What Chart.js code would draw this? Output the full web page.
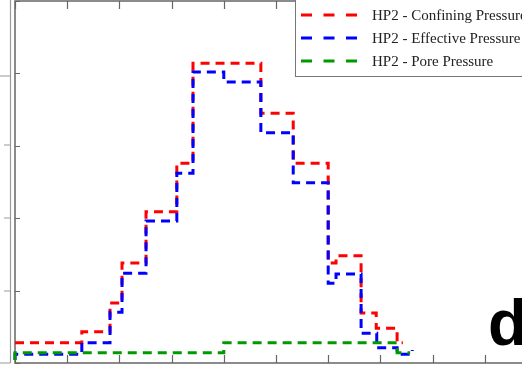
<!DOCTYPE html>
<html>
<head>
<meta charset="utf-8">
<script src="https://cdn.jsdelivr.net/npm/chart.js@4.4.1/dist/chart.umd.min.js"></script>
<style>
  html, body { margin: 0; padding: 0; background: #fff; overflow: hidden; }
  #wrap { position: relative; width: 540px; height: 373px; }
</style>
</head>
<body>
<div id="wrap"><canvas id="chart" width="540" height="373"></canvas></div>
<script>
// step start positions and levels (level holds until next x)
const confX = [0, 12.8, 18.2, 20.5, 25.1, 31.0, 34.1, 47.1, 53.3, 60.0, 61.5, 66.3, 69.2, 73.2, 74.3];
const confY = [2.8, 4.3, 8.3, 13.8, 20.9, 27.6, 41.4, 34.5, 27.6, 13.8, 14.8, 6.9, 4.8, 2.8, 2.8];

const effX = [0, 0, 12.8, 18.2, 20.5, 25.1, 31.0, 34.1, 40.0, 47.1, 53.3, 60.0, 61.5, 66.3, 69.3, 73.2, 76.1, 76.1];
const effY = [0.4, 1.2, 2.8, 7.0, 12.4, 19.6, 26.2, 40.2, 38.8, 31.8, 24.9, 11.0, 12.3, 4.1, 2.1, 1.2, 1.2, 1.8];

const poreX = [0, 0, 40.0, 73.2, 75.7];
const poreY = [0.4, 1.4, 2.8, 1.4, 1.4];

const seriesLabels = ['HP2 - Confining Pressure', 'HP2 - Effective Pressure', 'HP2 - Pore Pressure'];
const seriesColors = ['#ff0000', '#0000ff', '#009a00'];

const xTicks = [0, 10, 20, 30, 40, 50, 60, 70, 80, 90, 100];
const yTicks = [0, 10, 20, 30, 40, 50];

function toPoints(xs, ys) {
    return xs.map((x, i) => ({ x: x, y: ys[i] }));
}

// frame with inward ticks, plus the edge of the neighbouring panel
const framePlugin = {
    id: 'frame',
    beforeDatasetsDraw(chart) {
        const ctx = chart.ctx;
        const a = chart.chartArea;
        const xs = chart.scales.x, ys = chart.scales.y;
        ctx.save();
        // neighbour panel sliver
        ctx.strokeStyle = '#9a9a9a';
        ctx.lineWidth = 1.2;
        ctx.beginPath();
        ctx.moveTo(10.5, 0); ctx.lineTo(10.5, a.bottom);
        ctx.moveTo(0, 76); ctx.lineTo(10.5, 76);
        [145, 218, 291].forEach(py => { ctx.moveTo(4, py); ctx.lineTo(10.5, py); });
        ctx.moveTo(0, a.bottom); ctx.lineTo(10.5, a.bottom);
        ctx.stroke();

        ctx.strokeStyle = '#666';
        ctx.lineWidth = 1.5;
        ctx.strokeRect(a.left, a.top, a.right - a.left, a.bottom - a.top);
        ctx.lineWidth = 1.2;
        ctx.beginPath();
        xTicks.forEach(v => {
            const px = Math.round(xs.getPixelForValue(v)) + 0.5;
            ctx.moveTo(px, a.bottom); ctx.lineTo(px, a.bottom - 8);
            ctx.moveTo(px, a.top); ctx.lineTo(px, a.top + 8);
        });
        yTicks.forEach(v => {
            const py = Math.round(ys.getPixelForValue(v)) + 0.5;
            ctx.moveTo(a.left, py); ctx.lineTo(a.left + 5, py);
            ctx.moveTo(a.right, py); ctx.lineTo(a.right - 5, py);
        });
        ctx.stroke();
        ctx.restore();
    },
    afterDraw(chart) {
        const ctx = chart.ctx;
        ctx.save();
        // legend box
        ctx.fillStyle = '#fff';
        ctx.fillRect(295, 0, 260, 77);
        ctx.strokeStyle = '#777';
        ctx.lineWidth = 1;
        ctx.strokeRect(295.5, -1, 260, 77.5);
        ctx.font = '15px "Liberation Serif"';
        ctx.textBaseline = 'middle';
        chart.data.datasets.forEach((ds, i) => {
            const cy = 15 + i * 23;
            ctx.strokeStyle = ds.borderColor;
            ctx.lineWidth = 3;
            ctx.setLineDash([11, 11.5]);
            ctx.beginPath();
            ctx.moveTo(301, cy); ctx.lineTo(358, cy);
            ctx.stroke();
            ctx.setLineDash([]);
            ctx.fillStyle = '#222';
            ctx.fillText(ds.label, 372, cy + 1);
        });
        // panel letter
        ctx.fillStyle = '#000';
        ctx.font = 'bold 64px "Liberation Sans"';
        ctx.textBaseline = 'alphabetic';
        ctx.fillText('d', 488, 345);
        ctx.restore();
    }
};

const ctx = document.getElementById('chart').getContext('2d');
new Chart(ctx, {
    type: 'line',
    data: {
        datasets: [
            { label: seriesLabels[0], data: toPoints(confX, confY), borderColor: seriesColors[0], order: 3 },
            { label: seriesLabels[1], data: toPoints(effX, effY), borderColor: seriesColors[1], order: 2 },
            { label: seriesLabels[2], data: toPoints(poreX, poreY), borderColor: seriesColors[2], order: 1 }
        ].map(ds => Object.assign(ds, {
            stepped: 'before',
            borderWidth: 3,
            borderDash: [9, 6],
            pointRadius: 0,
            fill: false,
            clip: 6
        }))
    },
    options: {
        responsive: false,
        animation: false,
        layout: { padding: { left: 15, top: 1, right: 3, bottom: 10 } },
        plugins: { legend: { display: false }, tooltip: { enabled: false } },
        scales: {
            x: { type: 'linear', min: 0, max: 100, display: false },
            y: { min: 0, max: 50, display: false }
        }
    },
    plugins: [framePlugin]
});
</script>
</body>
</html>
